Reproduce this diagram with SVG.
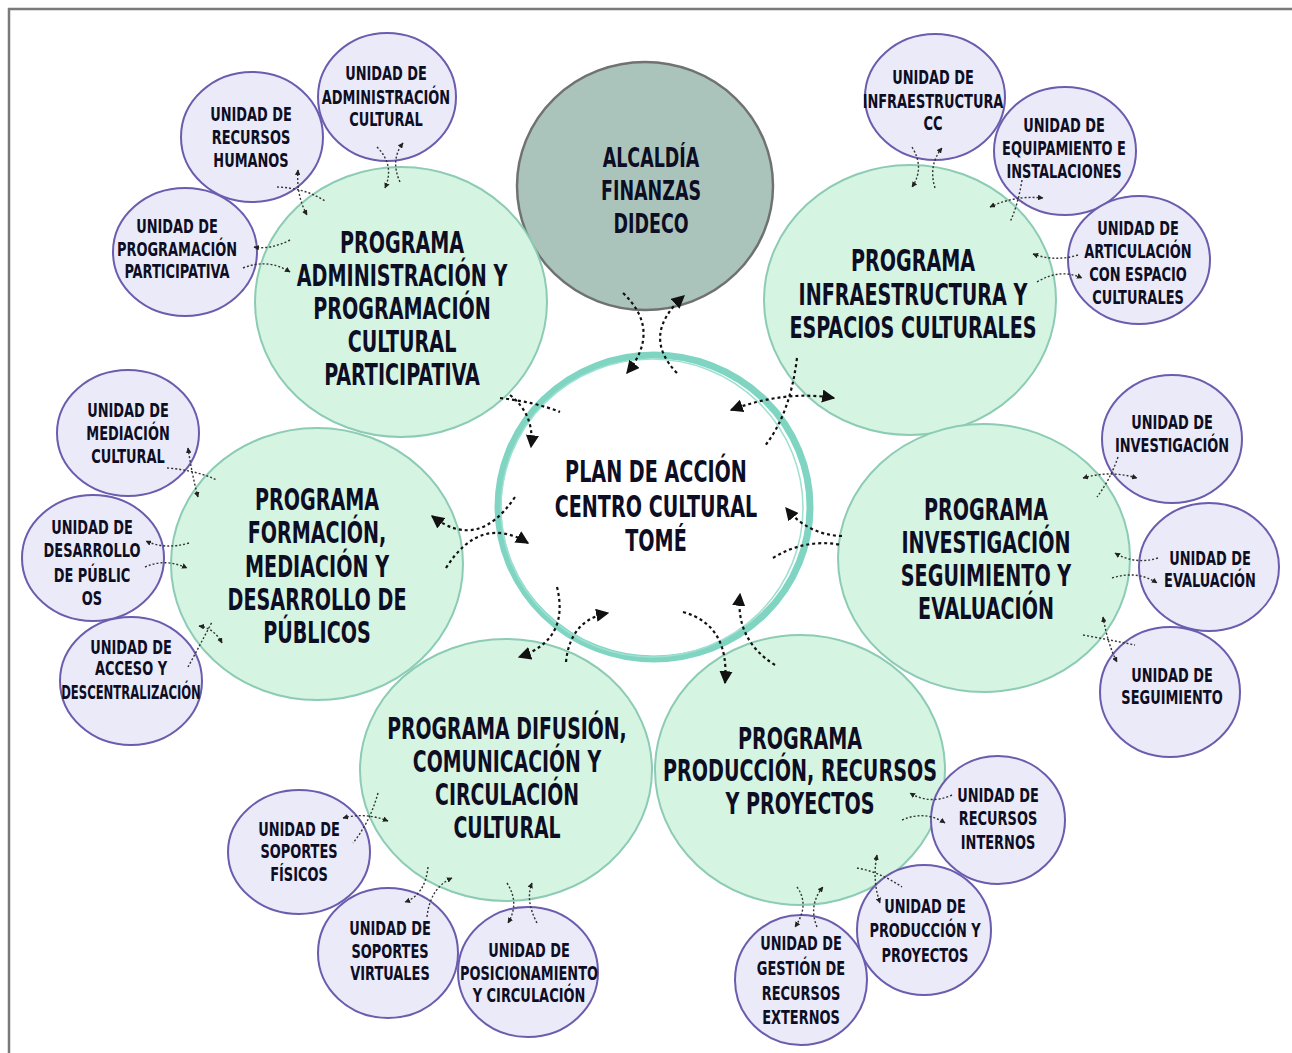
<svg xmlns="http://www.w3.org/2000/svg" width="1292" height="1053" viewBox="0 0 1292 1053">
<style>
.prog{fill:#d6f4e2;stroke:#8ccbb4;stroke-width:2}
.unit{fill:#eaeaf8;stroke:#6b5cae;stroke-width:2}
.alc{fill:#abc4bb;stroke:#6f7270;stroke-width:2.5}
.t{font-family:"DejaVu Sans Condensed","DejaVu Sans",sans-serif;font-weight:bold;fill:#0d0d24;text-anchor:middle}
.tu{font-size:20px}
.tp{font-size:30px}
.big{fill:none;stroke:#111;stroke-width:2.2;stroke-dasharray:3 3}
.sm{fill:none;stroke:#333;stroke-width:1.4;stroke-dasharray:2 2}
</style>
<defs>
<marker id="ab" viewBox="0 0 10 10" refX="9" refY="5" markerWidth="6" markerHeight="6" orient="auto-start-reverse" markerUnits="strokeWidth"><path d="M0,0 L10,5 L0,10 Z" fill="#111"/></marker>
<marker id="as" viewBox="0 0 10 10" refX="9" refY="5" markerWidth="4" markerHeight="4" orient="auto-start-reverse" markerUnits="strokeWidth"><path d="M0,0 L10,5 L0,10 Z" fill="#222"/></marker>
</defs>
<rect width="1292" height="1053" fill="#fff"/>
<path d="M9,1053 V9 H1292" fill="none" stroke="#7a7a7a" stroke-width="2.5"/>

<g id="alcaldia">
<ellipse class="alc" cx="645" cy="186" rx="128" ry="124"/>
<text class="t" font-size="27" transform="translate(651 0) scale(0.72 1)"><tspan x="0" y="167">ALCALDÍA</tspan><tspan x="0" y="200">FINANZAS</tspan><tspan x="0" y="233">DIDECO</tspan></text>
</g>

<g id="prog-admin">
<ellipse class="prog" cx="401" cy="302" rx="146" ry="135"/>
<text class="t tp" transform="translate(402 0) scale(0.71 1)"><tspan x="0" y="253">PROGRAMA</tspan><tspan x="0" y="286">ADMINISTRACIÓN Y</tspan><tspan x="0" y="319">PROGRAMACIÓN</tspan><tspan x="0" y="352">CULTURAL</tspan><tspan x="0" y="385">PARTICIPATIVA</tspan></text>
</g>
<g id="prog-infra">
<ellipse class="prog" cx="910" cy="300" rx="146" ry="135"/>
<text class="t tp" transform="translate(913 0) scale(0.71 1)"><tspan x="0" y="271">PROGRAMA</tspan><tspan x="0" y="305">INFRAESTRUCTURA Y</tspan><tspan x="0" y="338">ESPACIOS CULTURALES</tspan></text>
</g>
<g id="prog-formacion">
<ellipse class="prog" cx="317" cy="564" rx="146" ry="136"/>
<text class="t tp" transform="translate(317 0) scale(0.71 1)"><tspan x="0" y="510">PROGRAMA</tspan><tspan x="0" y="543">FORMACIÓN,</tspan><tspan x="0" y="577">MEDIACIÓN Y</tspan><tspan x="0" y="610">DESARROLLO DE</tspan><tspan x="0" y="643">PÚBLICOS</tspan></text>
</g>
<g id="prog-investigacion">
<ellipse class="prog" cx="984" cy="558" rx="146" ry="134"/>
<text class="t tp" transform="translate(986 0) scale(0.71 1)"><tspan x="0" y="520">PROGRAMA</tspan><tspan x="0" y="553">INVESTIGACIÓN</tspan><tspan x="0" y="586">SEGUIMIENTO Y</tspan><tspan x="0" y="619">EVALUACIÓN</tspan></text>
</g>
<g id="prog-difusion">
<ellipse class="prog" cx="506" cy="770" rx="146" ry="131"/>
<text class="t tp" transform="translate(507 0) scale(0.7 1)"><tspan x="0" y="739">PROGRAMA DIFUSIÓN,</tspan><tspan x="0" y="772">COMUNICACIÓN Y</tspan><tspan x="0" y="805">CIRCULACIÓN</tspan><tspan x="0" y="838">CULTURAL</tspan></text>
</g>
<g id="prog-produccion">
<ellipse class="prog" cx="800" cy="770" rx="145" ry="135"/>
<text class="t tp" transform="translate(800 0) scale(0.71 1)"><tspan x="0" y="749">PROGRAMA</tspan><tspan x="0" y="781">PRODUCCIÓN, RECURSOS</tspan><tspan x="0" y="814">Y PROYECTOS</tspan></text>
</g>

<g id="centro">
<ellipse cx="654" cy="507" rx="156" ry="152" fill="#fff" stroke="#7fd5c2" stroke-width="7"/>
<ellipse cx="652" cy="508" rx="151" ry="149" fill="none" stroke="#9fe0d1" stroke-width="1.5"/>
<text class="t tp" transform="translate(656 0) scale(0.71 1)"><tspan x="0" y="482">PLAN DE ACCIÓN</tspan><tspan x="0" y="517">CENTRO CULTURAL</tspan><tspan x="0" y="551">TOMÉ</tspan></text>
</g>

<g id="u-admin-cultural"><ellipse class="unit" cx="387" cy="97" rx="69" ry="64"/><text class="t tu" transform="translate(386 0) scale(0.72 1)"><tspan x="0" y="80">UNIDAD DE</tspan><tspan x="0" y="104">ADMINISTRACIÓN</tspan><tspan x="0" y="126">CULTURAL</tspan></text></g>
<g id="u-rrhh"><ellipse class="unit" cx="252" cy="137" rx="71" ry="65"/><text class="t tu" transform="translate(251 0) scale(0.72 1)"><tspan x="0" y="121">UNIDAD DE</tspan><tspan x="0" y="144">RECURSOS</tspan><tspan x="0" y="167">HUMANOS</tspan></text></g>
<g id="u-prog-part"><ellipse class="unit" cx="185" cy="252" rx="72" ry="64"/><text class="t tu" transform="translate(177 0) scale(0.72 1)"><tspan x="0" y="233">UNIDAD DE</tspan><tspan x="0" y="256">PROGRAMACIÓN</tspan><tspan x="0" y="278">PARTICIPATIVA</tspan></text></g>

<g id="u-infra-cc"><ellipse class="unit" cx="935" cy="97" rx="70" ry="63"/><text class="t tu" transform="translate(933 0) scale(0.72 1)"><tspan x="0" y="84">UNIDAD DE</tspan><tspan x="0" y="108">INFRAESTRUCTURA</tspan><tspan x="0" y="130">CC</tspan></text></g>
<g id="u-equip"><ellipse class="unit" cx="1065" cy="151" rx="71" ry="64"/><text class="t tu" transform="translate(1064 0) scale(0.72 1)"><tspan x="0" y="132">UNIDAD DE</tspan><tspan x="0" y="155">EQUIPAMIENTO E</tspan><tspan x="0" y="178">INSTALACIONES</tspan></text></g>
<g id="u-artic"><ellipse class="unit" cx="1139" cy="260" rx="71" ry="64"/><text class="t tu" transform="translate(1138 0) scale(0.72 1)"><tspan x="0" y="235">UNIDAD DE</tspan><tspan x="0" y="258">ARTICULACIÓN</tspan><tspan x="0" y="281">CON ESPACIO</tspan><tspan x="0" y="304">CULTURALES</tspan></text></g>

<g id="u-invest"><ellipse class="unit" cx="1172" cy="439" rx="70" ry="64"/><text class="t tu" transform="translate(1172 0) scale(0.72 1)"><tspan x="0" y="429">UNIDAD DE</tspan><tspan x="0" y="452">INVESTIGACIÓN</tspan></text></g>
<g id="u-eval"><ellipse class="unit" cx="1209" cy="567" rx="70" ry="64"/><text class="t tu" transform="translate(1210 0) scale(0.72 1)"><tspan x="0" y="565">UNIDAD DE</tspan><tspan x="0" y="587">EVALUACIÓN</tspan></text></g>
<g id="u-segui"><ellipse class="unit" cx="1170" cy="692" rx="70" ry="65"/><text class="t tu" transform="translate(1172 0) scale(0.72 1)"><tspan x="0" y="682">UNIDAD DE</tspan><tspan x="0" y="704">SEGUIMIENTO</tspan></text></g>

<g id="u-mediacion"><ellipse class="unit" cx="128" cy="433" rx="71" ry="63"/><text class="t tu" transform="translate(128 0) scale(0.72 1)"><tspan x="0" y="417">UNIDAD DE</tspan><tspan x="0" y="440">MEDIACIÓN</tspan><tspan x="0" y="463">CULTURAL</tspan></text></g>
<g id="u-desarrollo"><ellipse class="unit" cx="93" cy="558" rx="71" ry="63"/><text class="t tu" transform="translate(92 0) scale(0.72 1)"><tspan x="0" y="534">UNIDAD DE</tspan><tspan x="0" y="557">DESARROLLO</tspan><tspan x="0" y="582">DE PÚBLIC</tspan><tspan x="0" y="605">OS</tspan></text></g>
<g id="u-acceso"><ellipse class="unit" cx="131" cy="681" rx="71" ry="64"/><text class="t tu" transform="translate(131 0) scale(0.72 1)"><tspan x="0" y="654">UNIDAD DE</tspan><tspan x="0" y="675">ACCESO Y</tspan></text><text class="t" font-size="19" transform="translate(131 0) scale(0.72 1)" x="0" y="699" textLength="194" lengthAdjust="spacingAndGlyphs">DESCENTRALIZACIÓN</text></g>

<g id="u-fisicos"><ellipse class="unit" cx="299" cy="852" rx="71" ry="62"/><text class="t tu" transform="translate(299 0) scale(0.72 1)"><tspan x="0" y="836">UNIDAD DE</tspan><tspan x="0" y="858">SOPORTES</tspan><tspan x="0" y="881">FÍSICOS</tspan></text></g>
<g id="u-virtuales"><ellipse class="unit" cx="388" cy="953" rx="70" ry="65"/><text class="t tu" transform="translate(390 0) scale(0.72 1)"><tspan x="0" y="935">UNIDAD DE</tspan><tspan x="0" y="958">SOPORTES</tspan><tspan x="0" y="980">VIRTUALES</tspan></text></g>
<g id="u-posic"><ellipse class="unit" cx="528" cy="972" rx="70" ry="65"/><text class="t tu" transform="translate(529 0) scale(0.72 1)"><tspan x="0" y="957">UNIDAD DE</tspan><tspan x="0" y="980">POSICIONAMIENTO</tspan><tspan x="0" y="1002">Y CIRCULACIÓN</tspan></text></g>

<g id="u-rec-int"><ellipse class="unit" cx="998" cy="820" rx="67" ry="64"/><text class="t tu" transform="translate(998 0) scale(0.72 1)"><tspan x="0" y="802">UNIDAD DE</tspan><tspan x="0" y="825">RECURSOS</tspan><tspan x="0" y="849">INTERNOS</tspan></text></g>
<g id="u-produccion"><ellipse class="unit" cx="924" cy="930" rx="67" ry="65"/><text class="t tu" transform="translate(925 0) scale(0.72 1)"><tspan x="0" y="913">UNIDAD DE</tspan><tspan x="0" y="937">PRODUCCIÓN Y</tspan><tspan x="0" y="962">PROYECTOS</tspan></text></g>
<g id="u-gestion"><ellipse class="unit" cx="801" cy="980" rx="66" ry="65"/><text class="t tu" transform="translate(801 0) scale(0.72 1)"><tspan x="0" y="950">UNIDAD DE</tspan><tspan x="0" y="975">GESTIÓN DE</tspan><tspan x="0" y="1000">RECURSOS</tspan><tspan x="0" y="1024">EXTERNOS</tspan></text></g>

<g id="connectors">
<path class="big" d="M623,293 Q662,330 627,373" marker-end="url(#ab)"/>
<path class="big" d="M677,373 Q640,335 684,296" marker-end="url(#ab)"/>
<path class="big" d="M500,398 Q535,402 560,412"/>
<path class="big" d="M510,395 Q535,415 531,447" marker-end="url(#ab)"/>
<path class="big" d="M731,410 Q785,390 834,398" marker-start="url(#ab)" marker-end="url(#ab)"/>
<path class="big" d="M797,358 Q790,415 764,447"/>
<path class="big" d="M515,497 Q478,552 432,516" marker-end="url(#ab)"/>
<path class="big" d="M446,568 Q480,514 528,543" marker-end="url(#ab)"/>
<path class="big" d="M842,536 Q808,535 786,508" marker-end="url(#ab)"/>
<path class="big" d="M773,558 Q805,538 842,545"/>
<path class="big" d="M557,587 Q570,640 519,657" marker-end="url(#ab)"/>
<path class="big" d="M566,662 Q570,620 608,613" marker-end="url(#ab)"/>
<path class="big" d="M683,612 Q730,625 725,683" marker-end="url(#ab)"/>
<path class="big" d="M775,665 Q735,640 740,594" marker-end="url(#ab)"/>

<path class="sm" d="M377,147 Q395,165 385,188" marker-end="url(#as)"/>
<path class="sm" d="M400,182 Q390,160 403,143" marker-end="url(#as)"/>
<path class="sm" d="M277,187 Q305,188 325,201"/>
<path class="sm" d="M298,170 Q296,195 307,215" marker-start="url(#as)" marker-end="url(#as)"/>
<path class="sm" d="M290,240 Q270,250 254,247" marker-end="url(#as)"/>
<path class="sm" d="M243,268 Q268,258 290,272" marker-end="url(#as)"/>

<path class="sm" d="M912,147 Q925,168 912,187" marker-end="url(#as)"/>
<path class="sm" d="M935,188 Q928,165 942,148" marker-end="url(#as)"/>
<path class="sm" d="M990,207 Q1015,195 1043,198" marker-start="url(#as)" marker-end="url(#as)"/>
<path class="sm" d="M1022,180 Q1018,205 1010,222"/>
<path class="sm" d="M1078,255 Q1055,262 1033,254" marker-end="url(#as)"/>
<path class="sm" d="M1037,282 Q1060,268 1082,278" marker-end="url(#as)"/>

<path class="sm" d="M1083,478 Q1110,470 1137,478" marker-start="url(#as)" marker-end="url(#as)"/>
<path class="sm" d="M1118,457 Q1110,480 1097,497"/>
<path class="sm" d="M1158,558 Q1135,565 1115,553" marker-end="url(#as)"/>
<path class="sm" d="M1112,578 Q1137,570 1157,583" marker-end="url(#as)"/>
<path class="sm" d="M1103,617 Q1108,645 1117,662" marker-start="url(#as)" marker-end="url(#as)"/>
<path class="sm" d="M1083,635 Q1110,640 1135,645"/>

<path class="sm" d="M188,448 Q192,475 198,497" marker-start="url(#as)" marker-end="url(#as)"/>
<path class="sm" d="M167,468 Q195,470 217,480"/>
<path class="sm" d="M189,543 Q165,550 146,541" marker-end="url(#as)"/>
<path class="sm" d="M145,567 Q165,558 187,568" marker-end="url(#as)"/>
<path class="sm" d="M188,667 Q200,645 212,622"/>
<path class="sm" d="M199,626 Q214,628 222,643" marker-start="url(#as)" marker-end="url(#as)"/>

<path class="sm" d="M343,818 Q365,812 388,821" marker-start="url(#as)" marker-end="url(#as)"/>
<path class="sm" d="M378,793 Q370,822 353,843"/>
<path class="sm" d="M428,867 Q425,895 405,902" marker-end="url(#as)"/>
<path class="sm" d="M427,917 Q430,888 452,878" marker-end="url(#as)"/>
<path class="sm" d="M507,883 Q520,903 508,923" marker-end="url(#as)"/>
<path class="sm" d="M537,923 Q525,900 532,883" marker-end="url(#as)"/>

<path class="sm" d="M952,795 Q930,805 910,793" marker-end="url(#as)"/>
<path class="sm" d="M902,820 Q925,810 945,823" marker-end="url(#as)"/>
<path class="sm" d="M877,855 Q872,880 880,903" marker-start="url(#as)" marker-end="url(#as)"/>
<path class="sm" d="M857,868 Q880,872 902,887"/>
<path class="sm" d="M797,887 Q810,905 795,927" marker-end="url(#as)"/>
<path class="sm" d="M817,927 Q808,905 823,887" marker-end="url(#as)"/>
</g>
</svg>
